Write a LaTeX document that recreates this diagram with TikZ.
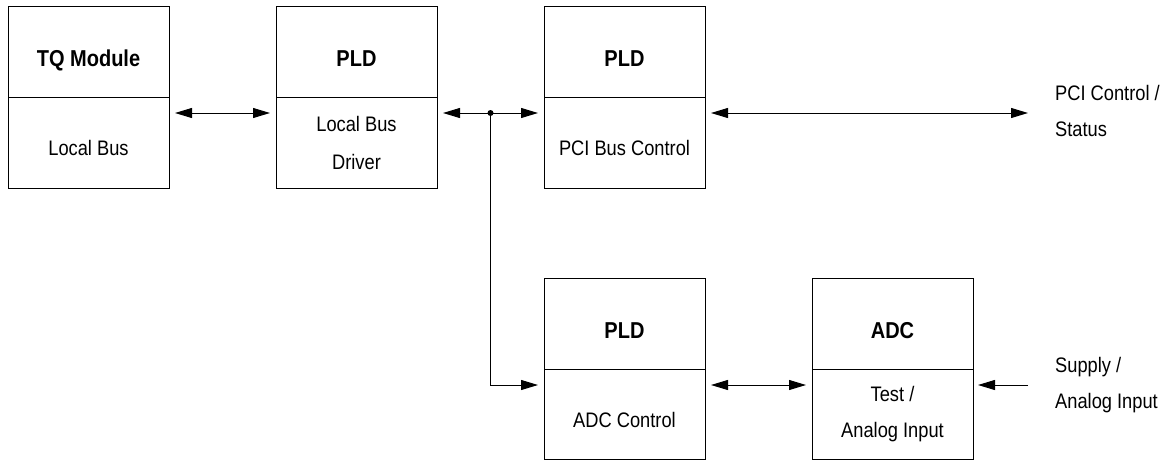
\documentclass[tikz,border=0pt]{standalone}
\usepackage{fontspec}
\setmainfont{Liberation Sans}[FakeStretch=0.87]
\usetikzlibrary{positioning,arrows.meta}

\begin{document}
\begin{tikzpicture}[x=1pt,y=-1pt]
  \tikzstyle{cell}=[draw, line width=1pt, outer sep=0pt, minimum width=161pt, minimum height=91pt, inner sep=0pt, align=center, font=\fontsize{21}{37}\selectfont]
  \tikzstyle{head}=[cell, font=\fontsize{23}{28}\selectfont\bfseries, text height=30pt, text depth=0pt]
  \tikzstyle{oneline}=[text height=26pt, text depth=0pt]
  \tikzstyle{ext}=[inner sep=0pt, anchor=west, align=left, font=\fontsize{21}{36}\selectfont]
  \tikzstyle{bus}=[line width=1pt, {Triangle[length=17pt,width=10pt]}-{Triangle[length=17pt,width=10pt]}, shorten <=6pt, shorten >=6pt]
  \tikzstyle{feed}=[line width=1pt, -{Triangle[length=17pt,width=10pt]}]
  \useasboundingbox (0,0) rectangle (1165,461);
  % upper row
  \node (tqh) [head] at (88.5,51.5) {TQ Module};
  \node (tqb) [cell, oneline, below=0pt of tqh] {Local Bus};
  \node (pld1h) [head, right=107pt of tqh] {PLD};
  \node (pld1b) [cell, below=0pt of pld1h, font=\fontsize{21}{38}\selectfont] {Local Bus\\Driver};
  \node (pld2h) [head, right=107pt of pld1h] {PLD};
  \node (pld2b) [cell, oneline, below=0pt of pld2h] {PCI Bus Control};
  % lower row
  \node (pld3h) [head, below=90pt of pld2b] {PLD};
  \node (pld3b) [cell, oneline, below=0pt of pld3h, minimum height=90pt] {ADC Control};
  \node (adch) [head, right=107pt of pld3h] {ADC};
  \node (adcb) [cell, below=0pt of adch, minimum height=90pt, font=\fontsize{21}{36}\selectfont] {Test /\\Analog Input};
  % outside texts
  \node (pcitxt) [ext] at (1055,111) {PCI Control /\\Status};
  \node (suptxt) [ext] at (1055,385) {Supply /\\Analog Input};
  % connectors
  \coordinate (tap) at ([xshift=53.5pt, yshift=-16pt]pld1b.north east);
  \coordinate (ptap) at ([yshift=-16pt]pld2b.north east);
  \coordinate (atap) at ([yshift=-16pt]adcb.north east);
  \draw [bus] ([yshift=-16pt]tqb.north east) -- ([yshift=-16pt]pld1b.north west);
  \draw [bus] ([yshift=-16pt]pld1b.north east) -- ([yshift=-16pt]pld2b.north west);
  \fill (tap) circle (3pt);
  \draw [bus, shorten >=27pt] (ptap) -- (pcitxt.west |- ptap);
  \draw [feed, shorten >=6pt] (tap) |- ([yshift=-16pt]pld3b.north west);
  \draw [bus] ([yshift=-16pt]pld3b.north east) -- ([yshift=-16pt]adcb.north west);
  \draw [feed, shorten <=27pt, shorten >=5pt] (suptxt.west |- atap) -- (atap);
\end{tikzpicture}
\end{document}
